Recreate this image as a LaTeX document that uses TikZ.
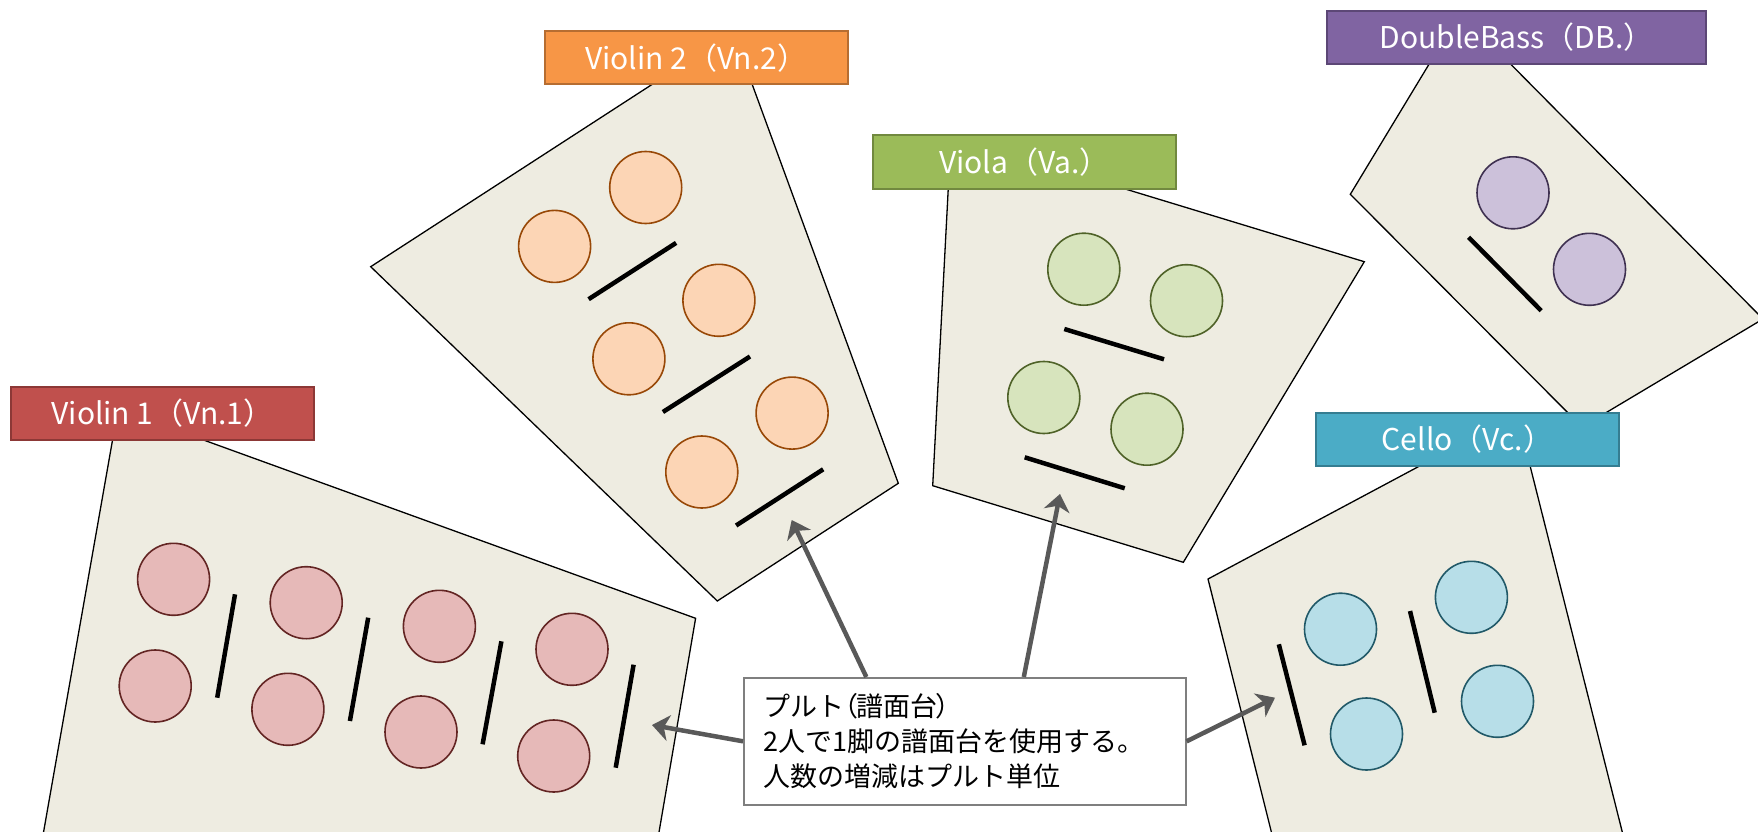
\documentclass[tikz,border=0pt]{standalone}
\usepackage{fontspec}
\newfontfamily\jp{Noto Sans CJK JP}
\usetikzlibrary{arrows.meta,calc}
\definecolor{paper}{HTML}{EEECE1}
\definecolor{vaF}{HTML}{E6B9B8}\definecolor{vaD}{HTML}{632523}
\definecolor{vaL}{HTML}{C0504D}\definecolor{vaB}{HTML}{8C3836}
\definecolor{vbF}{HTML}{FCD5B5}\definecolor{vbD}{HTML}{984807}
\definecolor{vbL}{HTML}{F79646}\definecolor{vbB}{HTML}{B66D31}
\definecolor{vlF}{HTML}{D7E4BD}\definecolor{vlD}{HTML}{4F6228}
\definecolor{vlL}{HTML}{9BBB59}\definecolor{vlB}{HTML}{71893F}
\definecolor{dbF}{HTML}{CCC1DA}\definecolor{dbD}{HTML}{3F3151}
\definecolor{dbL}{HTML}{8064A2}\definecolor{dbB}{HTML}{5C4776}
\definecolor{vcF}{HTML}{B7DEE8}\definecolor{vcD}{HTML}{215968}
\definecolor{vcL}{HTML}{4BACC6}\definecolor{vcB}{HTML}{357D91}
\definecolor{arrowgray}{HTML}{595959}
\definecolor{notegray}{HTML}{7F7F7F}
\begin{document}
\begin{tikzpicture}[x=1pt,y=-1pt,
  stage/.style={fill=paper, draw=black, line width=1.3pt, line join=miter},
  player/.style={circle, minimum size=72pt, inner sep=0pt, line width=1.6pt},
  pva/.style={player, fill=vaF, draw=vaD},
  pvb/.style={player, fill=vbF, draw=vbD},
  pvl/.style={player, fill=vlF, draw=vlD},
  pdb/.style={player, fill=dbF, draw=dbD},
  pvc/.style={player, fill=vcF, draw=vcD},
  stand/.style={line width=4.5pt, draw=black},
  tag/.style={rectangle, minimum width=303pt, minimum height=53pt, inner sep=0pt,
    line width=2pt, text=white, font=\jp\fontsize{30}{36}\selectfont},
  note/.style={rectangle, draw=notegray, fill=white, line width=1.6pt, align=left,
    text width=402pt, inner xsep=20pt, inner ysep=0pt, minimum height=127pt,
    font=\jp\fontsize{27}{35}\selectfont},
  arr/.style={draw=arrowgray, line width=4.5pt,
    -{Stealth[length=17pt,width=26pt,inset=5pt]}}
]
\useasboundingbox (0,0) rectangle (1758,832);
\clip (0,0) rectangle (1758,832);
\fill[white] (0,0) rectangle (1758,832);

% stage areas
\draw[stage] (118,409) -- (695.6,618.3) -- (647.4,900) -- (31.6,900) -- cycle;
\draw[stage] (733,32) -- (898.3,483.3) -- (717.3,601) -- (370.7,266.7) -- cycle;
\draw[stage] (951,136) -- (1364.3,261.7) -- (1183.3,562.3) -- (932.7,485.7) -- cycle;
\draw[stage] (1460,13) -- (1763,319) -- (1582,427) -- (1350.3,194.3) -- cycle;
\draw[stage] (1517,414) -- (1639.4,900) -- (1288.4,900) -- (1208,579) -- cycle;

% Violin 1
\node[pva] (a1) at (173.6,579.3) {};
\node[pva] (a2) at (155.2,686) {};
\node[pva] (a3) at (306.2,602.7) {};
\node[pva] (a4) at (287.9,709.3) {};
\node[pva] (a5) at (439.4,626.3) {};
\node[pva] (a6) at (421,732) {};
\node[pva] (a7) at (572,649.3) {};
\node[pva] (a8) at (553.7,756) {};
\draw[stand] (235,594.3) -- (217.2,697.7);
\draw[stand] (368.2,617.7) -- (349.9,721);
\draw[stand] (501.4,641.3) -- (482.6,744.3);
\draw[stand] (633.6,664.7) -- (615.7,767.7);

% Violin 2
\node[pvb] (b1) at (645.7,187.5) {};
\node[pvb] (b2) at (554.6,246.4) {};
\node[pvb] (b3) at (718.9,300.3) {};
\node[pvb] (b4) at (628.9,358.8) {};
\node[pvb] (b5) at (792.1,413.1) {};
\node[pvb] (b6) at (701.8,472) {};
\draw[stand] (588.6,299.2) -- (676.1,242.9);
\draw[stand] (662.9,412) -- (750,356.5);
\draw[stand] (736.1,525.5) -- (823.2,469.3);

% Viola
\node[pvl] (c1) at (1083.8,269.2) {};
\node[pvl] (c2) at (1186.5,300.7) {};
\node[pvl] (c3) at (1043.8,397.5) {};
\node[pvl] (c4) at (1147,429.2) {};
\draw[stand] (1064.3,329) -- (1164,359.3);
\draw[stand] (1024.7,457.3) -- (1124.7,488.3);

% Double bass
\node[pdb] (d1) at (1513,192.8) {};
\node[pdb] (d2) at (1589.5,269.3) {};
\draw[stand] (1468.6,237.3) -- (1541.2,310.7);

% Cello
\node[pvc] (e1) at (1340.5,629.2) {};
\node[pvc] (e2) at (1471.4,597.3) {};
\node[pvc] (e3) at (1366.5,734) {};
\node[pvc] (e4) at (1497.5,701.3) {};
\draw[stand] (1278.8,644.3) -- (1304.6,745.3);
\draw[stand] (1410,611) -- (1434.7,712.7);

% labels
\node[tag, fill=vaL, draw=vaB] (lva) at (162.5,413) {Violin 1（Vn.1）};
\node[tag, fill=vbL, draw=vbB] (lvb) at (696,58) {Violin 2（Vn.2）};
\node[tag, fill=vlL, draw=vlB] (lvl) at (1024.5,162) {Viola（Va.）};
\node[tag, fill=dbL, draw=dbB, minimum width=379pt] (ldb) at (1516.5,37.5) {DoubleBass（DB.）};
\node[tag, fill=vcL, draw=vcB] (lvc) at (1467.5,439.5) {Cello（Vc.）};

% note and arrows
\node[note, anchor=north west] (nt) at (743,677)
  {プルト\kern-13pt（\kern-2pt 譜面台\kern-2pt）\\2人で1脚の譜面台を使用する。\\人数の増減はプルト単位};
\coordinate (t1) at (652,725);
\coordinate (t2) at (791.7,520);
\coordinate (t3) at (1060,494);
\coordinate (t4) at (1275,697.7);
\draw[arr] (nt.west) -- (t1);
\draw[arr] ($(nt.north west)!0.278!(nt.north east)$) -- (t2);
\draw[arr] ($(nt.north west)!0.633!(nt.north east)$) -- (t3);
\draw[arr] (nt.east) -- (t4);
\end{tikzpicture}
\end{document}
